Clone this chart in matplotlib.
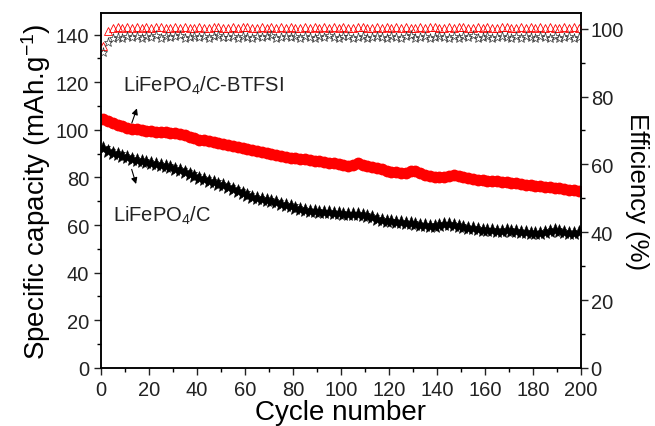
import matplotlib
matplotlib.use('Agg')
from matplotlib import pyplot as plt
from matplotlib.ticker import MultipleLocator

plt.rcParams['font.family'] = ['Liberation Sans', 'DejaVu Sans']
plt.rcParams['mathtext.fontset'] = 'custom'
plt.rcParams['mathtext.rm'] = 'Liberation Sans'
plt.rcParams['mathtext.it'] = 'Liberation Sans:italic'
plt.rcParams['mathtext.bf'] = 'Liberation Sans:bold'

# cycles 1,3,5,...,199
cycle = list(range(1, 201, 2))

# capacity, LiFePO4/C-BTFSI (red)
cap_btfsi = [104.6, 103.6, 102.8, 102.0, 101.4, 100.9, 100.5, 100.2, 99.9, 99.6,
             99.4, 99.2, 99.0, 98.9, 98.7, 98.5, 98.1, 97.6, 97.0, 96.4,
             95.9, 95.5, 95.1, 94.7, 94.3, 93.9, 93.5, 93.1, 92.8, 92.4,
             92.0, 91.6, 91.2, 90.8, 90.3, 89.8, 89.4, 89.0, 88.6, 88.3,
             88.0, 87.8, 87.6, 87.4, 87.1, 86.8, 86.5, 86.2, 85.9, 85.6,
             85.3, 85.0, 85.2, 86.0, 85.4, 84.8, 84.3, 83.9, 83.4, 82.8,
             82.4, 82.2, 82.0, 81.9, 82.6, 82.9, 82.0, 81.2, 80.6, 80.2,
             80.0, 80.2, 80.6, 81.0, 80.8, 80.3, 79.8, 79.4, 79.1, 78.8,
             78.6, 78.7, 78.5, 78.2, 78.0, 77.8, 77.6, 77.3, 77.0, 76.8,
             76.5, 76.3, 76.0, 75.8, 75.6, 75.4, 75.1, 74.9, 74.7, 74.5]

# capacity, LiFePO4/C (black)
cap_c = [92.2, 91.2, 90.4, 89.8, 89.1, 88.4, 87.9, 87.4, 86.9, 86.4,
         86.0, 85.6, 85.1, 84.7, 84.2, 83.7, 83.1, 82.4, 81.6, 80.7,
         79.9, 79.2, 78.6, 78.0, 77.4, 76.8, 76.1, 75.3, 74.5, 73.6,
         72.8, 71.9, 71.2, 70.8, 70.4, 70.0, 69.5, 69.0, 68.4, 67.8,
         67.3, 66.9, 66.5, 66.1, 65.8, 65.6, 65.5, 65.3, 65.1, 64.9,
         64.7, 64.5, 64.6, 64.8, 64.3, 63.8, 63.2, 62.7, 62.2, 61.8,
         61.5, 61.3, 61.1, 60.9, 60.7, 60.5, 60.2, 60.0, 59.8, 59.8,
         60.0, 60.3, 60.4, 60.1, 59.6, 59.2, 58.9, 58.6, 58.3, 58.0,
         57.9, 57.8, 57.7, 57.6, 57.8, 57.7, 57.4, 57.2, 56.9, 56.6,
         56.5, 56.7, 57.2, 57.6, 57.8, 57.6, 57.1, 56.8, 56.8, 56.9]

# coulombic efficiency (%)
eff_btfsi = [94.8, 99.2, 100.1, 100.4, 100.3, 100.5, 100.2, 100.4, 100.3, 100.6,
             100.2, 100.4, 100.5, 100.1, 100.3, 100.6, 100.2, 100.4, 100.3, 100.1,
             100.5, 100.3, 100.2, 100.6, 100.4, 100.1, 100.3, 100.5, 100.2, 100.4,
             100.6, 100.3, 100.1, 100.4, 100.2, 100.5, 100.3, 100.6, 100.2, 100.4,
             100.1, 100.3, 100.5, 100.2, 100.4, 100.3, 100.6, 100.1, 100.4, 100.2,
             100.5, 100.3, 100.2, 100.6, 100.4, 100.1, 100.3, 100.5, 100.2, 100.4,
             100.3, 100.6, 100.2, 100.4, 100.1, 100.3, 100.5, 100.2, 100.6, 100.4,
             100.1, 100.3, 100.5, 100.2, 100.4, 100.6, 100.3, 100.1, 100.4, 100.2,
             100.5, 100.3, 100.2, 100.6, 100.4, 100.1, 100.3, 100.5, 100.2, 100.4,
             100.3, 100.6, 100.2, 100.4, 100.1, 100.3, 100.5, 100.2, 100.4, 100.3]

eff_c = [93.0, 96.2, 97.2, 97.6, 97.4, 97.8, 97.5, 97.9, 97.3, 97.7,
         97.6, 98.0, 97.4, 97.8, 97.5, 97.7, 98.1, 97.4, 97.6, 97.9,
         97.5, 97.8, 97.3, 97.7, 98.0, 97.5, 97.6, 97.9, 97.4, 97.8,
         97.6, 97.3, 97.9, 97.5, 97.7, 98.0, 97.4, 97.6, 97.8, 97.5,
         97.7, 97.3, 97.9, 97.6, 97.4, 97.8, 97.5, 98.0, 97.6, 97.3,
         97.7, 97.9, 97.4, 97.6, 97.8, 97.2, 97.5, 97.9, 97.6, 97.4,
         97.8, 97.5, 97.3, 97.7, 98.0, 97.4, 97.6, 97.8, 97.2, 97.5,
         97.9, 97.6, 97.4, 97.8, 97.3, 97.7, 97.5, 98.0, 97.4, 97.6,
         97.8, 97.3, 97.5, 97.9, 97.6, 97.2, 97.7, 97.4, 97.8, 97.5,
         97.3, 97.9, 97.6, 97.4, 97.8, 97.2, 97.5, 97.7, 97.4, 97.6]

fig = plt.figure(figsize=(6.55, 4.27), dpi=100)
ax = fig.add_axes([0.154, 0.136, 0.733, 0.831])
ax2 = ax.twinx()

ax.plot(cycle, cap_btfsi, 'o', color='red', ms=8.5, mew=0)
ax.plot(cycle, cap_c, '*', color='black', ms=10.5, mew=0.4)

ax2.plot(cycle, eff_btfsi, '^', mfc='none', mec='red', ms=6, mew=0.6)
ax2.plot(cycle, eff_c, '*', mfc='none', mec='#333333', ms=6.5, mew=0.5)

ax.set_xlim(0, 200)
ax.set_ylim(0, 149)
ax2.set_ylim(0, 104.6)

ax.xaxis.set_major_locator(MultipleLocator(20))
ax.xaxis.set_minor_locator(MultipleLocator(10))
ax.yaxis.set_major_locator(MultipleLocator(20))
ax.yaxis.set_minor_locator(MultipleLocator(10))
ax2.yaxis.set_major_locator(MultipleLocator(20))
ax2.yaxis.set_minor_locator(MultipleLocator(10))

for a in (ax, ax2):
    a.tick_params(which='major', direction='out', length=5, width=1, labelsize=14.5, colors='#222222')
    a.tick_params(which='minor', direction='out', length=3, width=1)
    for s in a.spines.values():
        s.set_linewidth(1.1)
ax2.tick_params(which='major', pad=2)

ax.set_xlabel('Cycle number', fontsize=20, labelpad=0)
ax.set_ylabel('Specific capacity (mAh.g$^{-1}$)', fontsize=20, labelpad=2)
ax2.set_ylabel('Efficiency (%)', fontsize=18.5, rotation=270, labelpad=18)

ax.text(9.2, 119, 'LiFePO$_4$/C-BTFSI', fontsize=14.5, va='center', color='#222222')
ax.text(5, 64.3, 'LiFePO$_4$/C', fontsize=14.5, va='center', color='#222222')

ax.annotate('', xy=(15.4, 110.1), xytext=(12.5, 101.7),
            arrowprops=dict(arrowstyle='-|>', color='black', lw=0.8, mutation_scale=9))
ax.annotate('', xy=(15.0, 76.1), xytext=(12.5, 84.5),
            arrowprops=dict(arrowstyle='-|>', color='black', lw=0.8, mutation_scale=9))

fig.savefig('out.png', dpi=100)
